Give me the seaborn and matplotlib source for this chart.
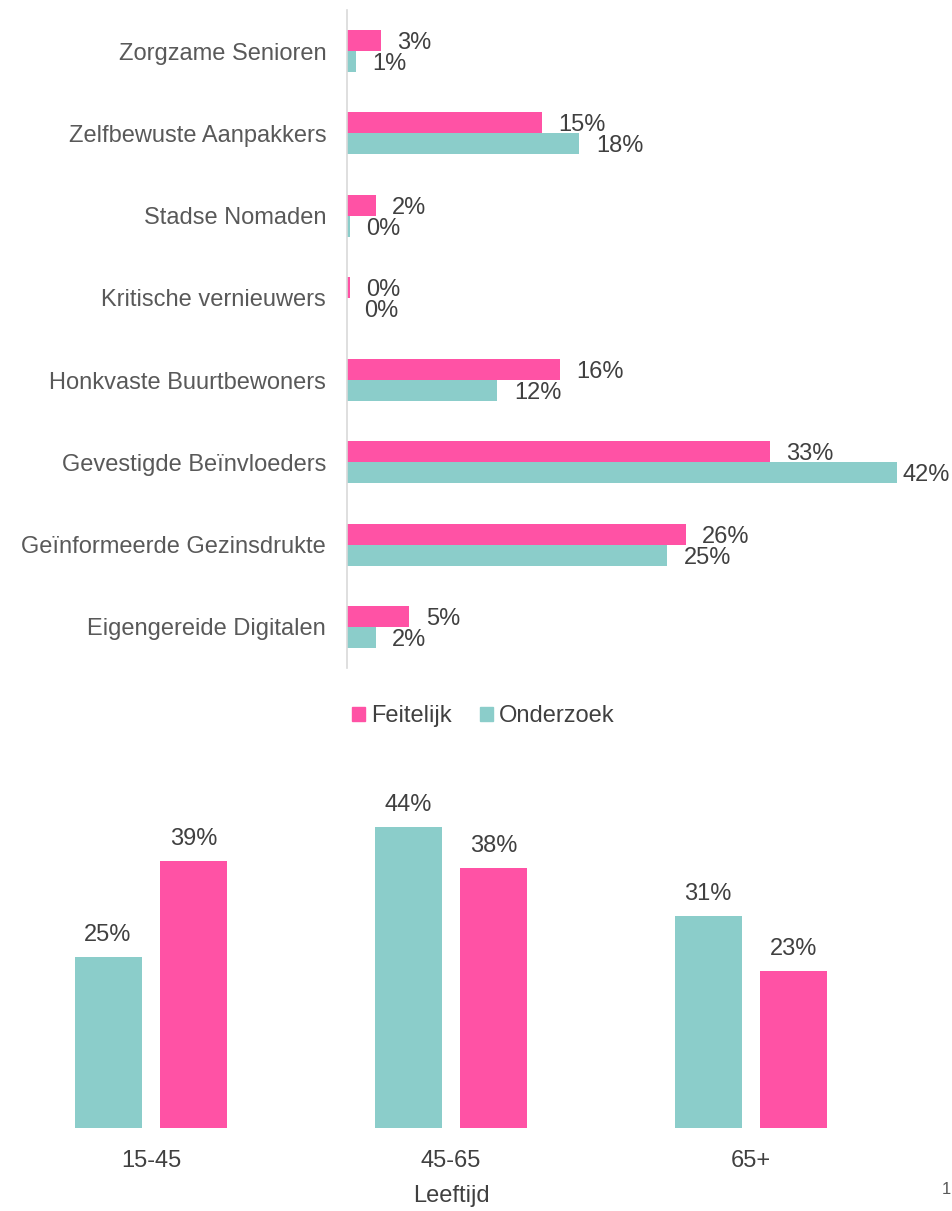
import numpy as np
import pandas as pd
import seaborn as sns
import matplotlib.pyplot as plt
from matplotlib.patches import Patch

# Data - segmenten (bovenste grafiek)
segmenten = ['Zorgzame Senioren', 'Zelfbewuste Aanpakkers', 'Stadse Nomaden',
             'Kritische vernieuwers', 'Honkvaste Buurtbewoners',
             'Gevestigde Beïnvloeders', 'Geïnformeerde Gezinsdrukte',
             'Eigengereide Digitalen']
feitelijk_seg = [2.6, 15.0, 2.2, 0.2, 16.4, 32.6, 26.1, 4.8]
onderzoek_seg = [0.7, 17.9, 0.2, 0.0, 11.6, 42.4, 24.7, 2.2]

# Data - leeftijd (onderste grafiek)
leeftijden = ['15-45', '45-65', '65+']
onderzoek_lft = [25, 44, 31]
feitelijk_lft = [39, 38, 23]

ROZE = '#FF52A5'
TEAL = '#8BCDCA'
TEKST = '#404040'
FS = 17

sns.set_theme(style='white')
plt.rcParams['font.family'] = ['Liberation Sans', 'DejaVu Sans']

df_seg = pd.DataFrame({
    'segment': segmenten * 2,
    'waarde': feitelijk_seg + onderzoek_seg,
    'bron': ['Feitelijk'] * len(segmenten) + ['Onderzoek'] * len(segmenten),
})
df_lft = pd.DataFrame({
    'leeftijd': leeftijden * 2,
    'waarde': onderzoek_lft + feitelijk_lft,
    'bron': ['Onderzoek'] * len(leeftijden) + ['Feitelijk'] * len(leeftijden),
})

fig = plt.figure(figsize=(9.52, 12.11), dpi=100)
W, H = 952, 1211

# Bovenste grafiek
ax1 = fig.add_axes([347 / W, 1 - 668 / H, (W - 347) / W, 658 / H])
sns.barplot(data=df_seg, y='segment', x='waarde', hue='bron',
            hue_order=['Feitelijk', 'Onderzoek'],
            palette={'Feitelijk': ROZE, 'Onderzoek': TEAL},
            width=0.51, ax=ax1, legend=False, saturation=1,
            edgecolor='none')
xmax = (W - 347) / 12.97
ax1.set_xlim(0, xmax)
ax1.set_ylim(7.5, -0.5)
for cont in ax1.containers:
    for b in cont:
        w = b.get_width()
        # label rechts van de balk, bij de rand wat dichterbij
        offset = 12 if w < xmax - 6 else 4
        ax1.annotate(f'{int(np.floor(w + 0.5))}%',
                     (w, b.get_y() + b.get_height() / 2),
                     xytext=(offset, 0), textcoords='offset points',
                     va='center_baseline', ha='left', fontsize=FS,
                     color=TEKST, annotation_clip=False)
ax1.set_xlabel('')
ax1.set_ylabel('')
ax1.set_xticks([])
ax1.tick_params(axis='y', length=0, pad=15, labelsize=FS, labelcolor='#595959')
for s in ['top', 'right', 'bottom']:
    ax1.spines[s].set_visible(False)
ax1.spines['left'].set_color('#D9D9D9')
ax1.spines['left'].set_linewidth(1.2)

handles = [Patch(color=ROZE, label='Feitelijk'), Patch(color=TEAL, label='Onderzoek')]
fig.legend(handles=handles, loc='center', bbox_to_anchor=(483 / W, 1 - 716 / H),
           ncol=2, frameon=False, fontsize=FS, handlelength=0.55, handleheight=0.55,
           handletextpad=0.25, columnspacing=1.2, labelcolor=TEKST)

# Onderste grafiek
ax2 = fig.add_axes([1 / W, 1 - 1128 / H, 900 / W, 342 / H])
sns.barplot(data=df_lft, x='leeftijd', y='waarde', hue='bron',
            hue_order=['Onderzoek', 'Feitelijk'],
            palette={'Feitelijk': ROZE, 'Onderzoek': TEAL},
            width=0.573, gap=0.22, ax=ax2, legend=False, saturation=1,
            edgecolor='none')
ax2.set_ylim(0, 50)
for cont in ax2.containers:
    ax2.bar_label(cont, labels=[f'{b.get_height():.0f}%' for b in cont],
                  padding=8, fontsize=FS, color=TEKST)
ax2.set_ylabel('')
ax2.set_yticks([])
ax2.set_xlabel('Leeftijd', fontsize=FS, color=TEKST, labelpad=9)
ax2.tick_params(axis='x', length=0, pad=16, labelsize=FS, labelcolor=TEKST)
sns.despine(ax=ax2, left=True, bottom=True)

fig.text(0.999, 1 - 1190 / H, '1', fontsize=12, color='#595959', va='center', ha='right')

fig.savefig('out.png', dpi=100)
